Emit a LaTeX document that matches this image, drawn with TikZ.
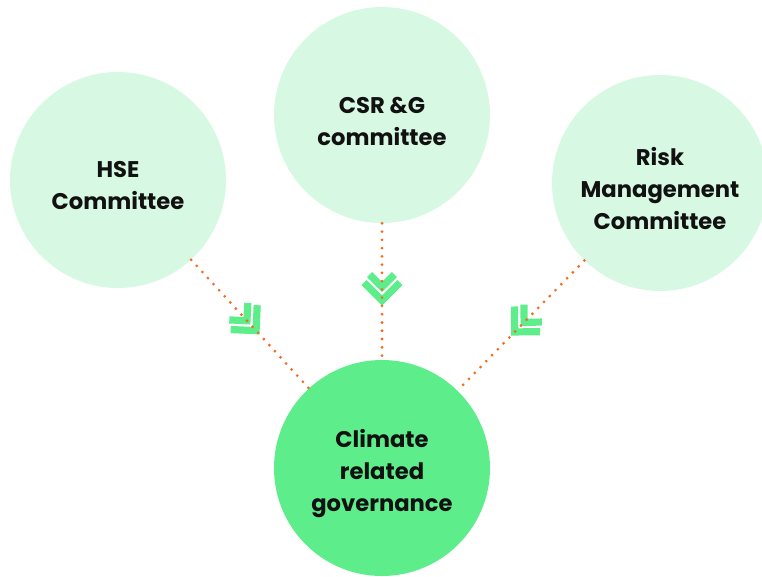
\documentclass[tikz,border=0pt]{standalone}
\usepackage{fontspec}
\setmainfont{Poppins}
\definecolor{lightc}{HTML}{D7F8E2}
\definecolor{darkc}{HTML}{5DEE8B}
\definecolor{dotc}{HTML}{F26B1F}
\definecolor{txtc}{HTML}{111111}
\begin{document}
\begin{tikzpicture}[x=0.75pt,y=-0.75pt,
  bubble/.style={circle,fill=lightc,minimum size=162pt,inner sep=0pt},
  mainbubble/.style={bubble,fill=darkc},
  btext/.style={align=center,inner sep=0pt,yshift=-4.5pt,
    font=\fontsize{17}{24}\selectfont\bfseries,text=txtc},
  dotline/.style={draw=dotc,line width=2.3pt,line cap=round,dash pattern=on 0pt off 6.2pt},
  chevline/.style={draw=darkc,line width=5.4pt,miter limit=10},
  chev/.pic={
    \draw[chevline] (-9,18) -- (9,0) -- (-9,-18);
    \draw[chevline] (-17,12.5) -- (-4.5,0) -- (-17,-12.5);
  }]
\useasboundingbox (0,0) rectangle (762,576);
\node[bubble] (hse) at (118,180) {};
\node[bubble] (csr) at (382,115) {};
\node[bubble] (risk) at (660,183) {};
\node[mainbubble] (clim) at (382,468) {};
\node[btext] (hset) at (hse.center) {HSE\\Committee};
\node[btext] (csrt) at (csr.center) {CSR \&G\\committee};
\node[btext] (riskt) at (risk.center) {Risk\\Management\\Committee};
\node[btext] (climt) at (clim.center) {Climate\\related\\governance};
\path (hse) -- (clim) pic[pos=0.5,sloped,allow upside down]{chev};
\path (csr) -- (clim) pic[pos=0.5,sloped,allow upside down]{chev};
\path (risk) -- (clim) pic[pos=0.5,sloped,allow upside down]{chev};
\draw[dotline] (hse) -- (clim);
\draw[dotline] (csr) -- (clim);
\draw[dotline] (risk) -- (clim);
\end{tikzpicture}
\end{document}
